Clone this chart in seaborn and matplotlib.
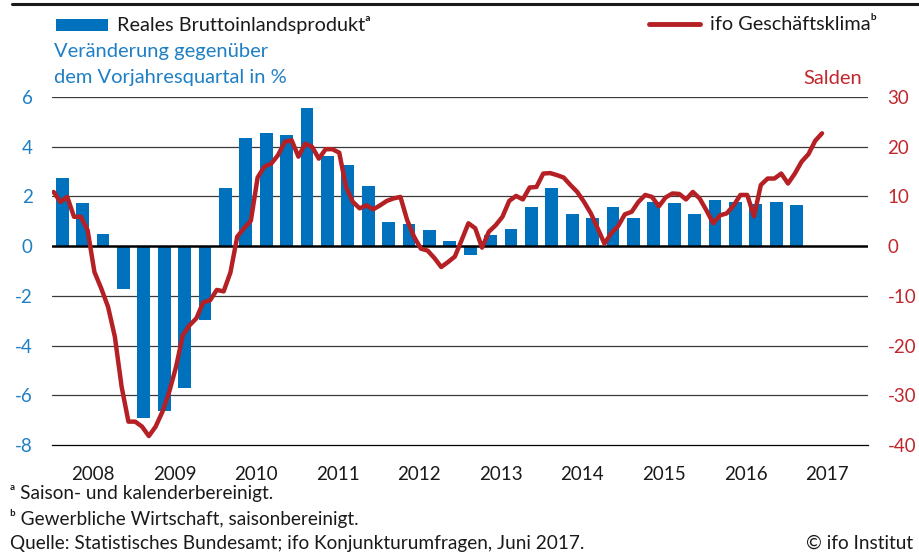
import matplotlib.pyplot as plt
from matplotlib.lines import Line2D
from matplotlib.patches import Rectangle
import numpy as np
import pandas as pd
import seaborn as sns

# Reales Bruttoinlandsprodukt, Veränderung gegenüber Vorjahresquartal in % (ab 2008 Q1)
bip_start = "2008Q1"
bip_werte = [2.74, 1.73, 0.50, -1.72,
             -6.93, -6.63, -5.71, -2.98,
             2.35, 4.35, 4.56, 4.47,
             5.57, 3.62, 3.27, 2.41,
             0.97, 0.89, 0.63, 0.19,
             -0.37, 0.44, 0.70, 1.56,
             2.33, 1.30, 1.14, 1.57,
             1.12, 1.76, 1.72, 1.28,
             1.84, 1.77, 1.69, 1.76,
             1.65]

# ifo Geschäftsklima gewerbliche Wirtschaft, Salden (monatlich ab Jan 2008)
ifo_start = "2008-01"
ifo_werte = [10.9, 8.9, 9.9, 5.9, 5.9, 3.2, -5.2, -8.5, -12.2, -18.2, -28.3, -35.3,
             -35.3, -36.3, -38.2, -36.3, -33.3, -29.3, -24.3, -17.9, -15.9, -14.5, -11.3, -10.9,
             -8.8, -9.1, -5.3, 1.9, 3.6, 5.1, 13.8, 16.0, 16.6, 18.3, 21.0, 21.3,
             18.0, 20.6, 20.0, 17.6, 19.5, 19.5, 18.8, 11.9, 8.9, 7.6, 8.2, 7.4,
             8.2, 9.1, 9.6, 9.9, 5.2, 1.9, -0.5, -0.9, -2.4, -4.2, -3.2, -2.1,
             1.2, 4.6, 3.6, -0.3, 2.9, 4.2, 5.9, 9.1, 10.1, 9.4, 11.8, 11.9,
             14.6, 14.7, 14.3, 13.8, 12.3, 10.9, 8.9, 6.6, 3.6, 0.5, 2.6, 4.0,
             6.4, 6.9, 8.9, 10.3, 9.9, 8.0, 9.8, 10.6, 10.5, 9.4, 10.9, 9.6,
             7.2, 4.6, 6.2, 6.6, 8.2, 10.3, 10.3, 6.0, 12.3, 13.6, 13.6, 14.6,
             12.6, 14.6, 17.0, 18.5, 21.2, 22.7]

jahre = list(range(2008, 2018))
links_ticks = [-8, -6, -4, -2, 0, 2, 4, 6]
rechts_ticks = [-40, -30, -20, -10, 0, 10, 20, 30]

BLAU = "#0071bc"
BLAU_TEXT = "#1f7fc4"
ROT = "#b52025"
ROT_TEXT = "#c1272d"

# Zeitachse als Dezimaljahre
quartale = pd.period_range(bip_start, periods=len(bip_werte), freq="Q")
bip = pd.DataFrame({
    "x": quartale.year + (quartale.quarter - 1) / 4 + 0.125,
    "wert": bip_werte,
})
monate = pd.period_range(ifo_start, periods=len(ifo_werte), freq="M")
ifo = pd.DataFrame({
    "x": monate.year + (monate.month - 1) / 12 + 0.02,
    "wert": ifo_werte,
})

sns.set_style("white")
plt.rcParams["font.family"] = ["Lato", "DejaVu Sans"]

fig = plt.figure(figsize=(9.19, 5.58), dpi=100)
ax = fig.add_axes([52 / 919, 1 - 445 / 558, (868 - 52) / 919, (445 - 97) / 558])

# Balken: BIP
sns.barplot(data=bip, x="x", y="wert", native_scale=True, orient="x",
            width=0.62, color=BLAU, saturation=1, errorbar=None,
            linewidth=0, ax=ax, zorder=2)

for t in links_ticks[1:]:
    if t == 0:
        continue
    ax.axhline(t, color="#3a3a3a", linewidth=0.9, zorder=1)
ax.axhline(0, color="black", linewidth=1.8, zorder=3)

ax.set_xlim(2008, 2018)
ax.set_ylim(-8, 6)
ax.set_yticks(links_ticks)
ax.set_yticklabels([str(t) for t in links_ticks])
ax.tick_params(axis="y", length=0, pad=14, labelsize=13.5, labelcolor=BLAU_TEXT)
ax.set_xticks(jahre + [2018])
ax.set_xticklabels([])
ax.set_xticks([j + 0.5 for j in jahre], minor=True)
ax.set_xticklabels([str(j) for j in jahre], minor=True)
ax.tick_params(axis="x", which="major", direction="out", length=6, width=0.9, color="black")
ax.tick_params(axis="x", which="minor", length=0, pad=15, labelsize=13.5, labelcolor="#1a1a1a")
ax.set_xlabel("")
ax.set_ylabel("")
for s in ["left", "right", "top"]:
    ax.spines[s].set_visible(False)
ax.spines["bottom"].set_color("black")
ax.spines["bottom"].set_linewidth(0.9)

# Linie: ifo Geschäftsklima
ax2 = ax.twinx()
sns.lineplot(data=ifo, x="x", y="wert", color=ROT, linewidth=3.2, ax=ax2,
             solid_capstyle="round", solid_joinstyle="round")
ax2.set_ylim(-40, 30)
ax2.set_yticks(rechts_ticks)
ax2.set_yticklabels([str(t) for t in rechts_ticks])
ax2.tick_params(axis="y", length=0, pad=14, labelsize=13.5, labelcolor=ROT_TEXT)
ax2.set_xlim(2008, 2018)
ax2.set_xlabel("")
ax2.set_ylabel("")
for s in ax2.spines.values():
    s.set_visible(False)

# Kopf: Trennlinie, Legende, Achsentitel
fig.add_artist(Line2D([12 / 919, 1.0], [1 - 4 / 558] * 2, color="#1a1a1a", linewidth=2.2))
fig.add_artist(Rectangle((56 / 919, 1 - 31 / 558), 52 / 919, 12 / 558,
                         transform=fig.transFigure, color=BLAU, linewidth=0))
fig.text(117 / 919, 1 - 25 / 558, "Reales Bruttoinlandsprodukt\u1d43",
         fontsize=14.3, color="#1a1a1a", va="center")
fig.add_artist(Line2D([649 / 919, 700 / 919], [1 - 24 / 558] * 2, color=ROT,
                      linewidth=3.5, solid_capstyle="round"))
fig.text(710 / 919, 1 - 25 / 558, "ifo Geschäftsklima\u1d47",
         fontsize=14.3, color="#1a1a1a", va="center")
fig.text(54 / 919, 1 - 51 / 558, "Veränderung gegenüber",
         fontsize=14.5, color=BLAU_TEXT, va="center")
fig.text(54 / 919, 1 - 77 / 558, "dem Vorjahresquartal in %",
         fontsize=14.5, color=BLAU_TEXT, va="center")
fig.text(862 / 919, 1 - 78 / 558, "Salden",
         fontsize=14.5, color=ROT_TEXT, va="center", ha="right")

# Fußnoten
fig.text(10 / 919, 1 - 493 / 558, "\u1d43 Saison- und kalenderbereinigt.",
         fontsize=13.7, color="#1a1a1a", va="center")
fig.text(10 / 919, 1 - 518 / 558, "\u1d47 Gewerbliche Wirtschaft, saisonbereinigt.",
         fontsize=13.7, color="#1a1a1a", va="center")
fig.text(10 / 919, 1 - 543 / 558, "Quelle: Statistisches Bundesamt; ifo Konjunkturumfragen, Juni 2017.",
         fontsize=13.7, color="#1a1a1a", va="center")
fig.text(913 / 919, 1 - 543 / 558, "© ifo Institut",
         fontsize=13.7, color="#1a1a1a", va="center", ha="right")

fig.savefig("out.png", dpi=100)
